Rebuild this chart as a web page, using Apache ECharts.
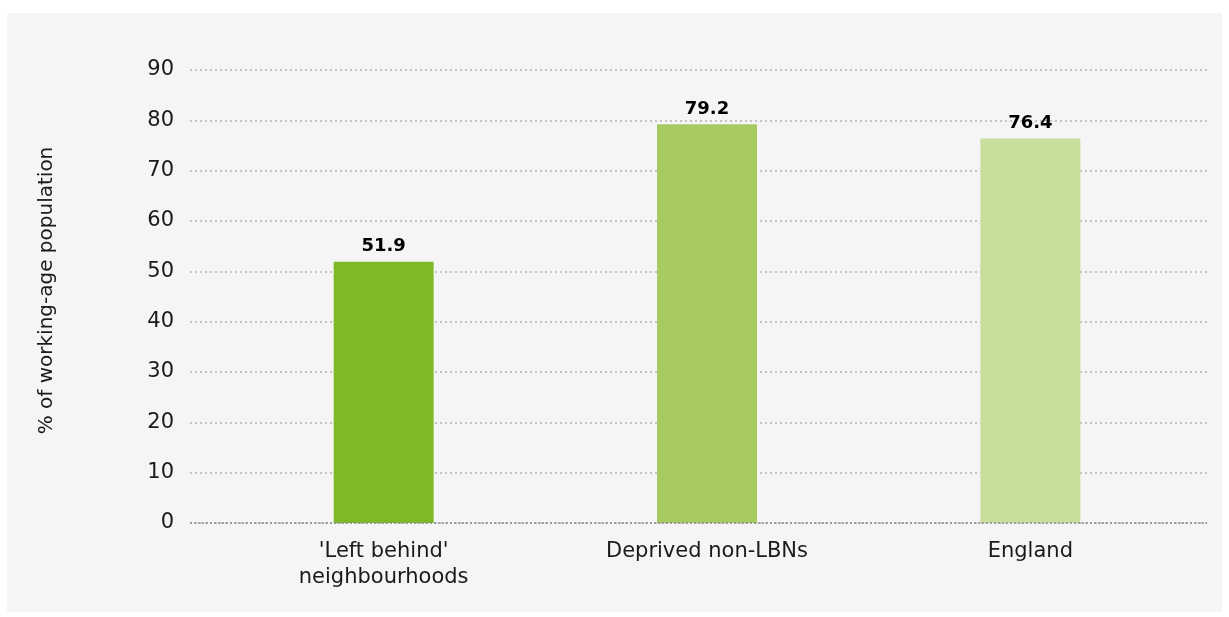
<!DOCTYPE html>
<html>
<head>
<meta charset="utf-8">
<script src="https://cdn.jsdelivr.net/npm/echarts@6/dist/echarts.min.js"></script>
<style>
    html, body { margin: 0; padding: 0; background: #ffffff; }
    #main { width: 1229px; height: 617px; }
</style>
</head>
<body>
<div id="main"></div>
<script>
// Chart data
const categories = ["'Left behind'\nneighbourhoods", "Deprived non-LBNs", "England"];
const values = [51.9, 79.2, 76.4];
const barColors = ["#80b927", "#a7cb61", "#c8de9c"];
const yTicks = { min: 0, max: 90, interval: 10 };
const yName = "% of working-age population";
const titleText = "Employment rate by area (% of the working-age population, aged 16-64)";

const font = "DejaVu Sans";

const chart = echarts.init(document.getElementById("main"));

const options = {
    backgroundColor: "#ffffff",
    animation: false,
    textStyle: { fontFamily: font },
    graphic: [
        {
            type: "rect",
            z: -10,
            silent: true,
            shape: { x: 7, y: 13, width: 1215, height: 599 },
            style: { fill: "#f5f5f5" },
        },
        {
            // title sits above the frame, only its descenders show
            type: "text",
            silent: true,
            x: 70,
            y: -2,
            style: {
                text: titleText,
                fill: "#7ab929",
                font: "26px 'DejaVu Sans'",
                verticalAlign: "bottom",
            },
        },
    ],
    grid: [
        // grid for the dotted gridlines and y labels
        { left: 190, right: 22, top: 70, bottom: 94 },
        // grid for the bars
        { left: 222, right: 37, top: 70, bottom: 94 },
    ],
    xAxis: [
        {
            type: "category",
            gridIndex: 0,
            data: categories,
            show: false,
        },
        {
            type: "category",
            gridIndex: 1,
            data: categories,
            axisLine: { show: false },
            axisTick: { show: false },
            axisLabel: {
                color: "#1a1a1a",
                fontSize: 21,
                lineHeight: 26,
                margin: 16,
                fontFamily: font,
            },
        },
    ],
    yAxis: [
        {
            type: "value",
            gridIndex: 0,
            min: yTicks.min,
            max: yTicks.max,
            interval: yTicks.interval,
            name: yName,
            nameLocation: "middle",
            nameRotate: 90,
            nameGap: 133,
            nameTextStyle: { color: "#1a1a1a", fontSize: 20, fontFamily: font, padding: [0, 0, 0, 12] },
            axisLine: { show: false },
            axisTick: { show: false },
            axisLabel: { color: "#1a1a1a", fontSize: 21, margin: 16, fontFamily: font },
            splitLine: {
                lineStyle: { color: "#b4b4b4", type: [2, 3], width: 1.5 },
            },
        },
        {
            type: "value",
            gridIndex: 1,
            min: yTicks.min,
            max: yTicks.max,
            interval: yTicks.interval,
            show: false,
            splitLine: { show: false },
        },
    ],
    series: [
        {
            // dotted zero line across the whole plot
            type: "line",
            xAxisIndex: 0,
            yAxisIndex: 0,
            data: [],
            markLine: {
                silent: true,
                symbol: "none",
                label: { show: false },
                lineStyle: { color: "#8c8c8c", type: [2, 2], width: 1.5 },
                data: [{ yAxis: 0 }],
            },
        },
        {
            type: "bar",
            xAxisIndex: 1,
            yAxisIndex: 1,
            barWidth: 100,
            data: values.map((v, i) => ({ value: v, itemStyle: { color: barColors[i] } })),
            label: {
                show: true,
                position: "top",
                distance: 6,
                color: "#000000",
                fontWeight: "bold",
                fontSize: 18,
                fontFamily: font,
            },
        },
    ],
};

chart.setOption(options);
</script>
</body>
</html>
